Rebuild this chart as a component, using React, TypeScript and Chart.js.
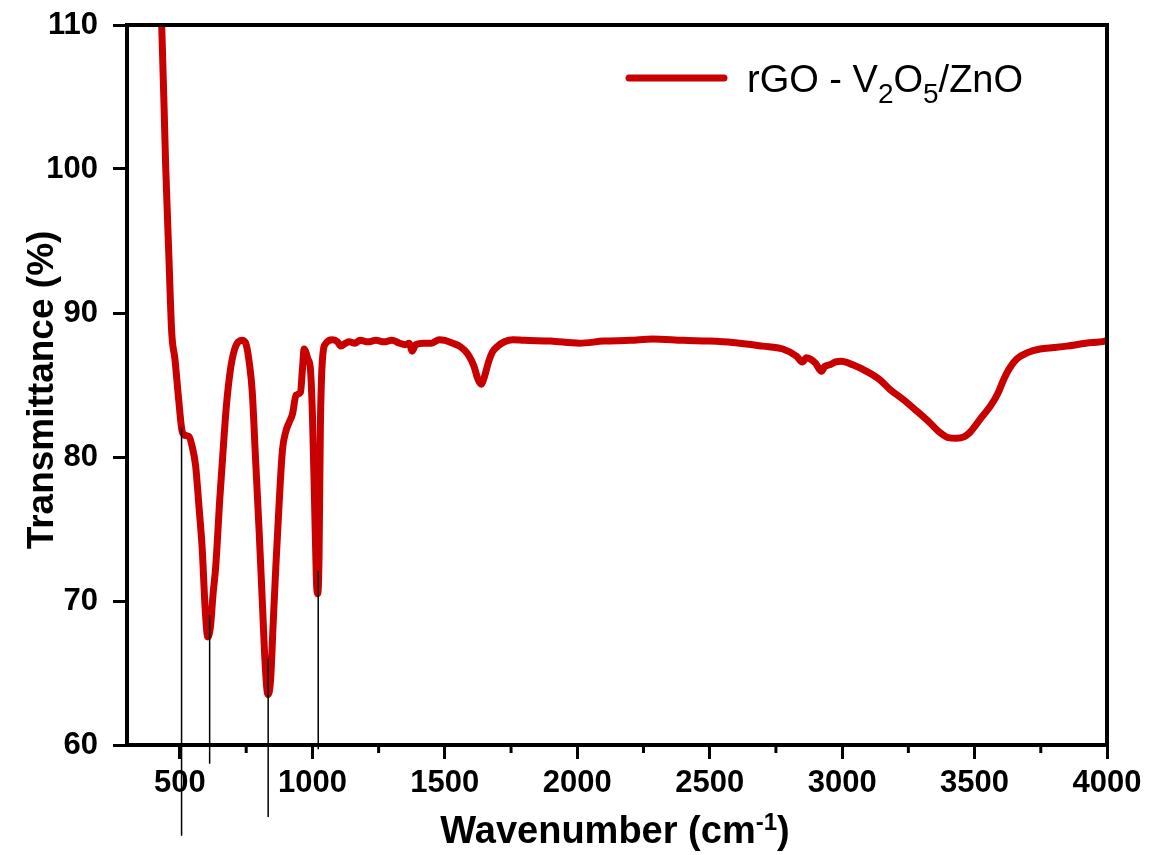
import React, { useEffect, useRef } from 'react';
import { Chart, registerables } from 'chart.js';

Chart.register(...registerables);

// FTIR spectrum of rGO - V2O5/ZnO
const wavenumbers = [
  425, 431, 446, 458, 469, 481, 495, 508, 520, 535, 545, 559, 572, 584, 595, 605, 615, 625, 635, 650,
  663, 675, 690, 705, 720, 735, 750, 762, 773, 785, 799, 812, 822, 832, 842, 852, 862, 875, 887,
  900, 912, 925, 938, 955, 962, 969, 975, 983, 992, 1000, 1008, 1015, 1020, 1025, 1030, 1038, 1051, 1076, 1095,
  1107, 1125, 1139, 1160, 1180, 1210, 1240, 1270, 1300, 1330, 1350, 1365, 1377, 1390, 1420, 1450, 1479, 1500, 1530, 1555,
  1575, 1592, 1610, 1625, 1637, 1650, 1665, 1680, 1700, 1725, 1756, 1800, 1900, 2008, 2100, 2200, 2284, 2400, 2500, 2587,
  2700, 2776, 2828, 2850, 2865, 2880, 2900, 2922, 2935, 2953, 2975, 2997, 3040, 3092, 3140, 3180, 3230, 3281, 3330, 3369,
  3400, 3432, 3460, 3482, 3520, 3564, 3590, 3608, 3630, 3659, 3700, 3747, 3800, 3848, 3920, 3992, 4000,
];
const transmittance = [
  111.5, 110, 100.2, 94, 88.6, 86.8, 84, 81.8, 81.5, 81.4, 80.8, 79.4, 76.5, 73.6, 69.5, 67.5, 68.2, 70.5, 72.4, 77,
  80.5, 83.5, 86.0, 87.4, 88.0, 88.1, 87.8, 86.5, 84.5, 80, 74.8, 69.5, 65.5, 63.5, 64.5, 68.5, 72.4, 77, 80.5,
  81.8, 82.4, 83.0, 84.3, 84.5, 86, 87.5, 87.3, 86.8, 86.2, 83, 77, 71.5, 70.5, 73, 82, 86.8, 87.9, 88.15, 88.0,
  87.7, 87.9, 88.0, 87.9, 88.1, 88.0, 88.1, 88.0, 88.1, 87.9, 87.8, 87.9, 87.35, 87.8, 87.9, 87.9, 88.15, 88.1, 87.9, 87.7,
  87.4, 87.0, 86.3, 85.4, 85.05, 85.6, 86.6, 87.3, 87.7, 88.0, 88.15, 88.1, 88.05, 87.9, 88.05, 88.1, 88.2, 88.1, 88.05, 87.95,
  87.7, 87.5, 87.0, 86.6, 86.9, 86.8, 86.5, 85.95, 86.3, 86.4, 86.6, 86.65, 86.4, 85.95, 85.4, 84.7, 84.0, 83.2, 82.4, 81.7,
  81.35, 81.3, 81.4, 81.7, 82.6, 83.65, 84.5, 85.3, 86.1, 86.8, 87.25, 87.5, 87.6, 87.7, 87.9, 88.05, 88.1,
];

const xTickValues = [500, 1000, 1500, 2000, 2500, 3000, 3500, 4000];
const xMinorTickValues = [750, 1250, 1750, 2250, 2750, 3250, 3750];
const yTickValues = [60, 70, 80, 90, 100, 110];

// Peak marker lines (wavenumber, top and bottom transmittance of each line)
const markerWavenumbers = [506, 612, 833, 1022];
const markerTops = [82.0, 69.0, 66.0, 72.1];
const markerBottoms = [53.7, 58.7, 55.0, 59.7];

const legendParts = [
  { text: 'rGO - V', sub: false },
  { text: '2', sub: true },
  { text: 'O', sub: false },
  { text: '5', sub: true },
  { text: '/ZnO', sub: false },
];

const LINE_COLOR = '#c80000';
const FONT = "'Liberation Sans', Arial, Helvetica, sans-serif";

const decorPlugin = {
  id: 'decor',
  afterDraw(chart: any) {
    const { ctx, chartArea: a, scales } = chart;
    const xs = scales.x;
    const ys = scales.y;
    ctx.save();

    // frame top and right
    ctx.strokeStyle = '#000';
    ctx.lineWidth = 4;
    ctx.lineCap = 'square';
    ctx.beginPath();
    ctx.moveTo(a.left, a.top);
    ctx.lineTo(a.right, a.top);
    ctx.lineTo(a.right, a.bottom);
    ctx.stroke();

    // minor ticks
    ctx.lineWidth = 3;
    ctx.lineCap = 'butt';
    xMinorTickValues.forEach((v) => {
      const px = xs.getPixelForValue(v);
      ctx.beginPath();
      ctx.moveTo(px, a.bottom);
      ctx.lineTo(px, a.bottom + 8);
      ctx.stroke();
    });

    // peak markers
    ctx.lineWidth = 1.5;
    markerWavenumbers.forEach((w, i) => {
      const px = xs.getPixelForValue(w);
      ctx.beginPath();
      ctx.moveTo(px, ys.getPixelForValue(markerTops[i]));
      ctx.lineTo(px, ys.getPixelForValue(markerBottoms[i]));
      ctx.stroke();
    });

    // legend
    ctx.strokeStyle = LINE_COLOR;
    ctx.lineWidth = 7;
    ctx.lineCap = 'round';
    ctx.beginPath();
    ctx.moveTo(629, 78);
    ctx.lineTo(724, 78);
    ctx.stroke();
    ctx.fillStyle = '#000';
    ctx.textBaseline = 'alphabetic';
    ctx.textAlign = 'left';
    let lx = 747;
    legendParts.forEach((p) => {
      ctx.font = p.sub ? `28px ${FONT}` : `38px ${FONT}`;
      ctx.fillText(p.text, lx, p.sub ? 103 : 92);
      lx += ctx.measureText(p.text).width;
    });

    // y title
    ctx.save();
    ctx.translate(53, 390);
    ctx.rotate(-Math.PI / 2);
    ctx.font = `bold 37px ${FONT}`;
    ctx.textAlign = 'center';
    ctx.fillText('Transmittance (%)', 0, 0);
    ctx.restore();

    // x title with superscript
    const main1 = 'Wavenumber (cm';
    const sup = '-1';
    const main2 = ')';
    ctx.font = `bold 38px ${FONT}`;
    const w1 = ctx.measureText(main1).width;
    const w3 = ctx.measureText(main2).width;
    ctx.font = `bold 24px ${FONT}`;
    const w2 = ctx.measureText(sup).width;
    let tx = 615 - (w1 + w2 + w3) / 2;
    ctx.font = `bold 38px ${FONT}`;
    ctx.fillText(main1, tx, 843);
    tx += w1;
    ctx.font = `bold 24px ${FONT}`;
    ctx.fillText(sup, tx, 830);
    tx += w2;
    ctx.font = `bold 38px ${FONT}`;
    ctx.fillText(main2, tx, 843);

    ctx.restore();
  },
};

export default function App() {
  const canvasRef = useRef<HTMLCanvasElement | null>(null);

  useEffect(() => {
    document.body.style.margin = '0';
    const canvas = canvasRef.current;
    if (!canvas) return;
    const data = wavenumbers.map((w, i) => ({ x: w, y: transmittance[i] }));
    const chart = new Chart(canvas, {
      type: 'line',
      data: {
        datasets: [
          {
            label: 'rGO - V2O5/ZnO',
            data,
            borderColor: LINE_COLOR,
            borderWidth: 7,
            pointRadius: 0,
            fill: false,
            cubicInterpolationMode: 'monotone',
            borderJoinStyle: 'round',
            borderCapStyle: 'round',
          },
        ],
      },
      options: {
        responsive: false,
        animation: false,
        devicePixelRatio: 1,
        layout: { padding: { top: 25, right: 54, left: 0, bottom: 0 } },
        plugins: {
          legend: { display: false },
          tooltip: { enabled: false },
        },
        scales: {
          x: {
            type: 'linear',
            min: 300,
            max: 4000,
            afterBuildTicks: (scale: any) => {
              scale.ticks = xTickValues.map((v) => ({ value: v }));
            },
            afterFit: (scale: any) => {
              scale.height = 110;
              scale.paddingLeft = 0;
              scale.paddingRight = 0;
            },
            grid: {
              drawOnChartArea: false,
              drawTicks: true,
              tickLength: 14,
              lineWidth: 3,
              color: '#000',
              tickColor: '#000',
            },
            border: { display: true, width: 4, color: '#000' },
            ticks: {
              padding: 6,
              color: '#000',
              maxRotation: 0,
              autoSkip: false,
              font: { family: FONT, size: 31, weight: 'bold' },
              callback: (v: any) => String(v),
            },
          },
          y: {
            type: 'linear',
            min: 60,
            max: 110,
            afterBuildTicks: (scale: any) => {
              scale.ticks = yTickValues.map((v) => ({ value: v }));
            },
            afterFit: (scale: any) => {
              scale.width = 127;
              scale.paddingTop = 0;
              scale.paddingBottom = 0;
            },
            grid: {
              drawOnChartArea: false,
              drawTicks: true,
              tickLength: 14,
              lineWidth: 3,
              color: '#000',
              tickColor: '#000',
            },
            border: { display: true, width: 4, color: '#000' },
            ticks: {
              padding: 15,
              color: '#000',
              autoSkip: false,
              font: { family: FONT, size: 31, weight: 'bold' },
              callback: (v: any) => String(v),
            },
          },
        },
      },
      plugins: [decorPlugin],
    } as any);
    return () => chart.destroy();
  }, []);

  return (
    <div style={{ width: 1161, height: 855, background: '#fff' }}>
      <canvas ref={canvasRef} width={1161} height={855} style={{ display: 'block' }} />
    </div>
  );
}
